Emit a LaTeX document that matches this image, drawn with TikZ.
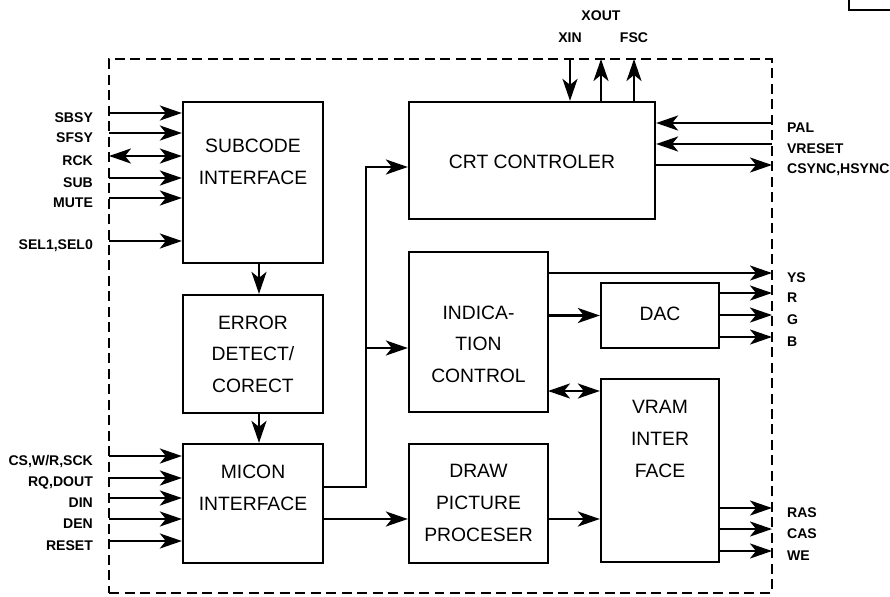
\documentclass[tikz,border=0pt]{standalone}
\usepackage{fontspec}
\setmainfont{Liberation Sans}
\usetikzlibrary{arrows.meta}

\begin{document}
\begin{tikzpicture}[
    x=0.02cm, y=-0.02cm,
    box/.style={rectangle, draw, line width=1.3pt, inner sep=0pt},
    boxtext/.style={align=center, font=\fontsize{11}{18}\selectfont, inner sep=0pt},
    chip/.style={rectangle, draw, line width=1.6pt, dash pattern=on 0.2cm off 0.11cm, inner sep=0pt, minimum width=13.26cm, minimum height=10.68cm},
    arrow/.style={->, line width=1.5pt, >={Stealth[length=0.44cm,width=0.3cm,inset=0.12cm]}},
    both/.style={arrow, <->},
    sig/.style={font=\fontsize{8}{9}\selectfont\bfseries, inner sep=1pt},
    lsig/.style={sig, xshift=-0.28cm, yshift=-0.1cm},
    rsig/.style={sig, xshift=0.26cm, yshift=-0.1cm},
    tsig/.style={sig, yshift=0.28cm}
]
\useasboundingbox (0,0) rectangle (890,596);

% chip outline
\node[chip] (ic) at (440.5,326) {};

% left column
\node[box, minimum width=2.8cm, minimum height=3.22cm] (sub) at (253,182.5) {};
\node[boxtext] (sub-t) at (253,162) {SUBCODE\\INTERFACE};
\node[box, minimum width=2.8cm, minimum height=2.36cm] (err) at (253,354) {};
\node[boxtext] (err-t) at (253,354) {ERROR\\DETECT/\\CORECT};
\node[box, minimum width=2.8cm, minimum height=2.38cm] (mic) at (253,503.5) {};
\node[boxtext] (mic-t) at (253,488) {MICON\\INTERFACE};

% middle column
\node[box, minimum width=4.92cm, minimum height=2.34cm] (crt) at (532,160.5) {};
\node[boxtext] (crt-t) at (532,162) {CRT CONTROLER};
\node[box, minimum width=2.78cm, minimum height=3.2cm] (ind) at (478.5,332) {};
\node[boxtext] (ind-t) at (478.5,344) {INDICA-\\TION\\CONTROL};
\node[box, minimum width=2.78cm, minimum height=2.38cm] (drw) at (478.5,503.5) {};
\node[boxtext] (drw-t) at (478.5,503) {DRAW\\PICTURE\\PROCESER};

% right column
\node[box, minimum width=2.36cm, minimum height=1.3cm] (dac) at (660,315.5) {};
\node[boxtext] (dac-t) at (660,314) {DAC};
\node[box, minimum width=2.36cm, minimum height=3.66cm] (vram) at (660,470.5) {};
\node[boxtext] (vram-t) at (660,439) {VRAM\\INTER\\FACE};

% pins on the left
\coordinate[label={[lsig]left:SBSY}] (sbsy) at (109,113);
\coordinate[label={[lsig]left:SFSY}] (sfsy) at (109,133);
\coordinate[label={[lsig]left:RCK}] (rck) at (109,156);
\coordinate[label={[lsig]left:SUB}] (subq) at (109,178);
\coordinate[label={[lsig]left:MUTE}] (mute) at (109,198);
\coordinate[label={[lsig]left:SEL1,SEL0}] (sel) at (109,241);
\coordinate[label={[lsig]left:CS,W/R,SCK}] (cs) at (109,456);
\coordinate[label={[lsig]left:RQ,DOUT}] (rq) at (109,478);
\coordinate[label={[lsig]left:DIN}] (din) at (109,498);
\coordinate[label={[lsig]left:DEN}] (den) at (109,519);
\coordinate[label={[lsig]left:RESET}] (reset) at (109,541);

% pins on top
\coordinate[label={[tsig]above:XIN}] (xin) at (570,59);
\coordinate[label={[sig, yshift=0.72cm]above:XOUT}] (xout) at (601,59);
\coordinate[label={[tsig]above:FSC}] (fsc) at (634,59);

% pins on the right
\coordinate[label={[rsig]right:PAL}] (pal) at (772,123);
\coordinate[label={[rsig]right:VRESET}] (vres) at (772,144);
\coordinate[label={[rsig]right:CSYNC,HSYNC}] (csync) at (772,165);
\coordinate[label={[rsig]right:YS}] (ys) at (772,273);
\coordinate[label={[rsig]right:R}] (r) at (772,293);
\coordinate[label={[rsig]right:G}] (g) at (772,315);
\coordinate[label={[rsig]right:B}] (b) at (772,337);
\coordinate[label={[rsig]right:RAS}] (ras) at (772,508);
\coordinate[label={[rsig]right:CAS}] (cas) at (772,529);
\coordinate[label={[rsig]right:WE}] (we) at (772,551);

% inputs
\draw[arrow] (sbsy) -- (sbsy -| sub.west);
\draw[arrow] (sfsy) -- (sfsy -| sub.west);
\draw[both] (rck) -- (rck -| sub.west);
\draw[arrow] (subq) -- (subq -| sub.west);
\draw[arrow] (mute) -- (mute -| sub.west);
\draw[arrow] (sel) -- (sel -| sub.west);
\draw[arrow] (cs) -- (cs -| mic.west);
\draw[arrow] (rq) -- (rq -| mic.west);
\draw[arrow] (din) -- (din -| mic.west);
\draw[arrow] (den) -- (den -| mic.west);
\draw[arrow] (reset) -- (reset -| mic.west);

% inner links
\draw[arrow] ([xshift=0.12cm]sub.south) -- ([xshift=0.12cm]err.north);
\draw[arrow] ([xshift=0.12cm]err.south) -- ([xshift=0.12cm]mic.north);
\coordinate (bend) at (366,487);
\coordinate (tee) at (366,348);
\draw[arrow] (mic.east |- bend) -- (bend) |- ([yshift=-0.13cm]crt.west);
\draw[arrow] (tee) -- (tee -| ind.west);
\draw[arrow] ([yshift=-0.31cm]mic.east) -- ([yshift=-0.31cm]drw.west);
\draw[arrow] ([yshift=-0.31cm]drw.east) coordinate (dv) -- (dv -| vram.west);
\draw[arrow] (ind.east |- dac.west) -- (dac.west);
\coordinate (iv) at (548,391);
\draw[both] (iv) -- (iv -| vram.west);

% crt pins
\draw[arrow] (xin) -- (xin |- crt.north);
\draw[arrow] (xout |- crt.north) -- (xout);
\draw[arrow] (fsc |- crt.north) -- (fsc);
\draw[arrow] (pal) -- (pal -| crt.east);
\draw[arrow] (vres) -- (vres -| crt.east);
\draw[arrow] (csync -| crt.east) -- (csync);

% outputs
\draw[arrow] (ys -| ind.east) -- (ys);
\draw[arrow] (r -| dac.east) -- (r);
\draw[arrow] (g -| dac.east) -- (g);
\draw[arrow] (b -| dac.east) -- (b);
\draw[arrow] (ras -| vram.east) -- (ras);
\draw[arrow] (cas -| vram.east) -- (cas);
\draw[arrow] (we -| vram.east) -- (we);

% corner of a neighbouring box
\draw[line width=1.3pt] (849,0) |- (890,10);

\end{tikzpicture}
\end{document}
